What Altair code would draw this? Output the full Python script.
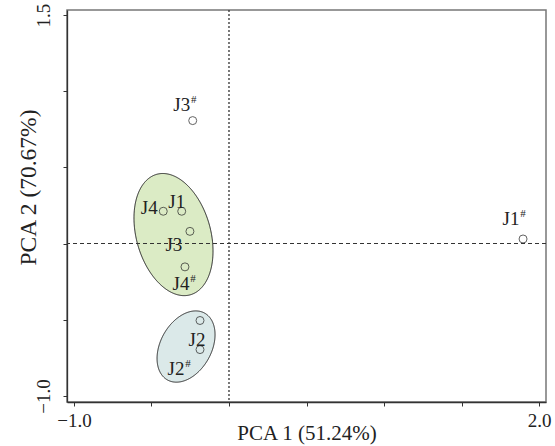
import altair as alt
import numpy as np
import pandas as pd

# ---------------- data ----------------
base_names = ["J1", "J2", "J3", "J4", "J1", "J2", "J3", "J4"]
sups = ["", "", "", "", "#", "#", "#", "#"]
pc1 = [-0.305, -0.187, -0.252, -0.424, 1.897, -0.187, -0.234, -0.284]
pc2 = [0.212, -0.505, 0.080, 0.212, 0.030, -0.696, 0.807, -0.153]

x_ticks = [-1.0, -0.5, 0.0, 0.5, 1.0, 1.5, 2.0]
y_ticks = [-1.0, -0.5, 0.0, 0.5, 1.0, 1.5]

# group ellipses: centre, semi-axes, angle (deg)
ell_group = ["g1", "g2"]
ell_cx = [-0.358, -0.277]
ell_cy = [0.059, -0.676]
ell_a = [0.41, 0.25]
ell_b = [0.24, 0.165]
ell_ang = [105, 62]
ell_fill = ["#dbebc5", "#dbe9e9"]

# ---------------- styles ----------------
FONT = "Liberation Serif, Times New Roman, serif"
INK = "#222222"
# per-label text offsets in pixels (dx, dy of baseline)
LABEL_OFFSETS = {
    0: (-5, -3),
    1: (-3, 26),
    2: (-16, 20),
    3: (-14, 3),
    4: (-12, -14),
    5: (-24, 25),
    6: (-11, -10),
    7: (-4, 23),
}

pts = pd.DataFrame({"id": list(range(len(base_names))), "name": base_names,
                    "sup": sups, "pc1": pc1, "pc2": pc2})


def ellipse_band(cx, cy, a, b, ang, n=240):
    t = np.radians(ang)
    A = np.cos(t) ** 2 / a ** 2 + np.sin(t) ** 2 / b ** 2
    B = 2 * np.sin(t) * np.cos(t) * (1 / a ** 2 - 1 / b ** 2)
    C = np.sin(t) ** 2 / a ** 2 + np.cos(t) ** 2 / b ** 2
    xm = np.sqrt(4 * C / (4 * A * C - B ** 2))
    u = np.linspace(0, np.pi, n)
    dx = -xm * np.cos(u)
    disc = np.clip(B ** 2 * dx ** 2 - 4 * C * (A * dx ** 2 - 1), 0, None)
    lo = (-B * dx - np.sqrt(disc)) / (2 * C)
    hi = (-B * dx + np.sqrt(disc)) / (2 * C)
    return cx + dx, cy + lo, cy + hi


rows = []
for g, cx, cy, a, b, ang in zip(ell_group, ell_cx, ell_cy, ell_a, ell_b, ell_ang):
    xs, lo, hi = ellipse_band(cx, cy, a, b, ang)
    for xv, l, h in zip(xs, lo, hi):
        rows.append({"g": g, "x": xv, "lo": l, "hi": h})
ell = pd.DataFrame(rows)

xscale = alt.Scale(domain=[-1.045, 2.045], nice=False, zero=False)
yscale = alt.Scale(domain=[-1.04, 1.533], nice=False, zero=False)

x_axis = alt.Axis(
    values=x_ticks,
    labelExpr="(datum.value == -1 || datum.value == 2) ? format(datum.value, '.1f') : ''",
    grid=False, tickSize=4, labelPadding=5, labelFontSize=19, labelFont=FONT,
    labelColor=INK, title="PCA 1 (51.24%)", titleFont=FONT, titleFontSize=21,
    titleFontWeight="normal", titleColor=INK, titleY=37, titleBaseline="alphabetic",
    domainColor="#333333", domainWidth=1.3, tickColor="#333333",
)
y_axis = alt.Axis(
    values=y_ticks,
    labelExpr="(datum.value == -1 || datum.value == 1.5) ? format(datum.value, '.1f') : ''",
    grid=False, tickSize=4, labelPadding=14, labelFontSize=19, labelFont=FONT,
    labelColor=INK, labelAngle=270, labelAlign="center", labelBaseline="alphabetic",
    title="PCA 2 (70.67%)", titleFont=FONT, titleFontSize=23.5, titleFontWeight="normal",
    titleColor=INK, titleAngle=270, titleX=-32, titleY=177, titleBaseline="alphabetic",
    titleAlign="center",
    domainColor="#333333", domainWidth=1.3, tickColor="#333333",
)

ellipses = alt.Chart(ell).mark_area(stroke=INK, strokeWidth=1, opacity=1).encode(
    x=alt.X("x:Q", scale=xscale, axis=x_axis),
    y=alt.Y("lo:Q", scale=yscale, axis=y_axis, stack=None),
    y2="hi:Q",
    detail="g:N",
    fill=alt.Fill("g:N", scale=alt.Scale(domain=ell_group, range=ell_fill), legend=None),
)

zero = pd.DataFrame({"v": [0.0]})
vline = alt.Chart(zero).mark_rule(strokeDash=[2, 2], strokeWidth=1.3, color="#333333").encode(
    x=alt.X("v:Q", scale=xscale))
hline = alt.Chart(zero).mark_rule(strokeDash=[4, 3], strokeWidth=1.1, color="#333333").encode(
    y=alt.Y("v:Q", scale=yscale))

points = alt.Chart(pts).mark_point(shape="circle", filled=False, size=64,
                                   stroke=INK, strokeWidth=1).encode(
    x=alt.X("pc1:Q", scale=xscale), y=alt.Y("pc2:Q", scale=yscale))

layers = [ellipses, vline, hline, points]
for i, (dx, dy) in LABEL_OFFSETS.items():
    base = alt.Chart(pts).transform_filter(alt.datum.id == i)
    layers.append(base.mark_text(font=FONT, fontSize=19, color=INK, align="center",
                                 baseline="alphabetic", dx=dx, dy=dy).encode(
        x=alt.X("pc1:Q", scale=xscale), y=alt.Y("pc2:Q", scale=yscale), text="name:N"))
    if sups[i]:
        layers.append(base.mark_text(font=FONT, fontSize=11, color=INK, align="center",
                                     baseline="alphabetic", dx=dx + 12, dy=dy - 8).encode(
            x=alt.X("pc1:Q", scale=xscale), y=alt.Y("pc2:Q", scale=yscale), text="sup:N"))

chart = alt.layer(*layers).properties(
    width=479, height=392,
    autosize=alt.AutoSizeParams(type="none"),
    padding={"left": 67, "top": 10, "right": 9, "bottom": 44},
    background="white",
).configure_view(stroke="#777777", strokeWidth=1.5)

chart.save("out.html", embed_options={"renderer": "svg", "actions": False})
